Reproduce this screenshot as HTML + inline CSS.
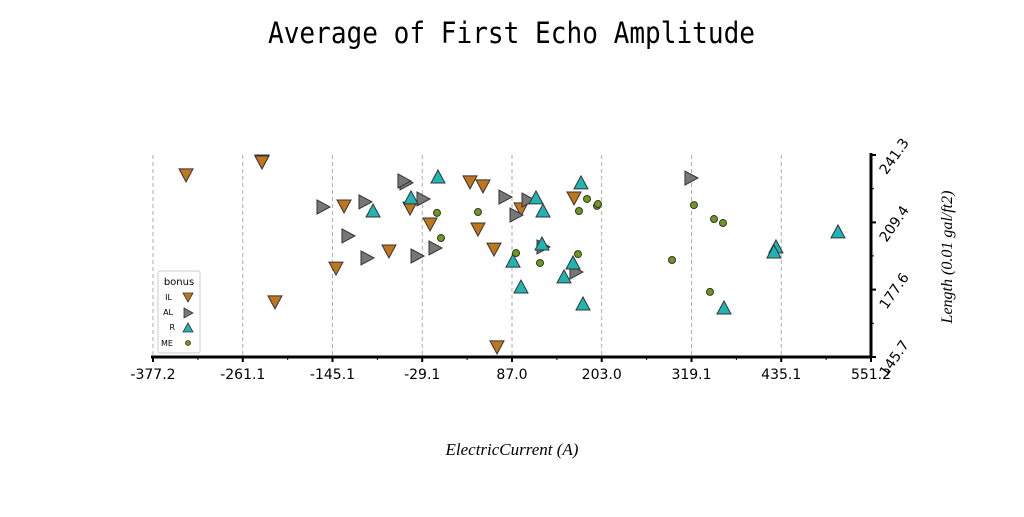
<!DOCTYPE html>
<html><head><meta charset="utf-8"><style>
body{margin:0;background:#fff;}
svg text{font-family:"DejaVu Sans","Liberation Sans",sans-serif;}
</style></head><body>
<svg id="chart" width="1024" height="512" xmlns="http://www.w3.org/2000/svg">
<text x="268" y="43" textLength="487" lengthAdjust="spacingAndGlyphs" style="font-family:'DejaVu Sans Mono','Liberation Mono',monospace;font-size:29px">Average of First Echo Amplitude</text>
<text x="512" y="455" text-anchor="middle" style="font-family:'Liberation Serif',serif;font-style:italic;font-size:17px">ElectricCurrent (A)</text>
<text transform="translate(952,257) rotate(-90)" text-anchor="middle" style="font-family:'Liberation Serif',serif;font-style:italic;font-size:16px">Length (0.01 gal/ft2)</text>
<g id="grid"></g><g id="marks"></g><g id="axes"></g>
<g>
<rect x="158" y="271" width="42" height="82" fill="#fff" stroke="#ccc" rx="2"/>
<text x="179" y="285" text-anchor="middle" font-size="10">bonus</text>
<text x="172" y="300" text-anchor="end" font-size="8">IL</text>
<polygon points="183,293 193,293 188,302" fill="#c0761c" stroke="#333" stroke-width="0.8"/>
<text x="173" y="315" text-anchor="end" font-size="8">AL</text>
<polygon points="184,308 193,313 184,318" fill="#777" stroke="#333" stroke-width="0.8"/>
<text x="175" y="330" text-anchor="end" font-size="8">R</text>
<polygon points="188,323 193,332 183,332" fill="#20b4b4" stroke="#333" stroke-width="0.8"/>
<text x="173" y="346" text-anchor="end" font-size="8">ME</text>
<circle cx="188" cy="343" r="2.5" fill="#6e9a18" stroke="#333" stroke-width="0.8"/>
</g>
</svg>
<script>
const xTicks=[-377.2,-261.1,-145.1,-29.1,87.0,203.0,319.1,435.1,551.2];
const yTicks=[145.7,177.6,209.4,241.3];
const ilX=[-334.5,-236.3,-236.3,-130.2,-44.9,-19.0,-140.6,-72.1,-219.5,32.7,49.5,43.0,63.7,98.6,67.6,167.2];
const ilY=[231.4,238.0,237.5,216.7,215.7,208.2,187.3,195.4,171.3,228.1,226.2,205.8,196.3,215.3,150.0,220.5];
const alX=[-157.4,-103.1,-125.1,-100.5,-50.1,-52.7,-28.1,-35.8,-12.6,77.9,92.2,107.7,127.1,169.7,318.4];
const alY=[216.7,219.1,203.0,192.6,228.1,229.0,220.5,193.5,197.3,221.4,212.9,220.0,197.8,185.9,230.4];
const rX=[-92.7,-43.6,-8.7,118.0,127.1,125.8,88.3,98.6,154.2,165.9,176.2,178.8,361.1,428.3,425.7,508.5];
const rY=[214.8,221.0,230.9,221.0,214.8,199.2,191.1,178.8,183.6,190.2,228.1,170.8,168.9,197.8,195.4,204.9];
const meX=[-10.0,43.0,-4.8,92.2,123.2,172.3,173.6,184.0,196.9,198.2,293.9,322.3,348.2,359.8,343.0];
const meY=[213.9,214.3,202.0,194.9,190.2,194.4,214.8,220.5,217.2,218.1,191.6,217.6,211.0,209.1,176.5];
const X0=153,X1=871,Y0=357,Y1=155;
const xs=v=>X0+(v-xTicks[0])/(xTicks[8]-xTicks[0])*(X1-X0);
const ys=v=>Y0-(v-yTicks[0])/(yTicks[3]-yTicks[0])*(Y0-Y1);
const NS="http://www.w3.org/2000/svg";
function mk(t,a,p){const e=document.createElementNS(NS,t);for(const k in a)e.setAttribute(k,a[k]);p.appendChild(e);return e;}
const grid=document.getElementById('grid'),marks=document.getElementById('marks'),axes=document.getElementById('axes');
xTicks.forEach((v,i)=>{const x=xs(v);
 const g=mk('line',{x1:x,x2:x,y1:Y1,y2:Y0,stroke:'#999','stroke-dasharray':'4,3','stroke-width':0.8},grid);
 
 
 mk('line',{x1:x,x2:x,y1:Y0,y2:Y0+5,stroke:'#000','stroke-width':2},axes);
 if(i<8){const xm=xs(v+(xTicks[1]-xTicks[0])/2);mk('line',{x1:xm,x2:xm,y1:Y0,y2:Y0+3,stroke:'#000','stroke-width':1},axes);}
 const t=mk('text',{x:x,y:Y0+22,'text-anchor':'middle','font-size':14},axes);t.textContent=v.toFixed(1);
 
 
});
yTicks.forEach((v,i)=>{const y=ys(v);
 mk('line',{x1:X1,x2:X1+5,y1:y,y2:y,stroke:'#000','stroke-width':2},axes);
 if(i<3){const ym=ys(v+(yTicks[1]-yTicks[0])/2);mk('line',{x1:X1,x2:X1+3,y1:ym,y2:ym,stroke:'#000','stroke-width':1},axes);}
 const t=mk('text',{transform:`translate(${X1+27},${y+4}) rotate(-55)`,'text-anchor':'middle','font-size':14},axes);t.textContent=v.toFixed(1);
 
 
});
const xa=mk('line',{x1:X0-2,x2:X1+1,y1:Y0,y2:Y0,stroke:'#000','stroke-width':3},axes);


const ya=mk('line',{x1:X1,x2:X1,y1:Y1-2,y2:Y0+1,stroke:'#000','stroke-width':3},axes);


const st={stroke:'#333','stroke-width':1};
ilX.forEach((v,i)=>{const x=xs(v),y=ys(ilY[i]);
 const p=mk('polygon',Object.assign({points:`${x-7},${y-7} ${x+7},${y-7} ${x},${y+6}`,fill:'#c0761c'},st),marks);
 
 });
alX.forEach((v,i)=>{const x=xs(v),y=ys(alY[i]);
 const p=mk('polygon',Object.assign({points:`${x-6},${y-7} ${x+7},${y} ${x-6},${y+7}`,fill:'#777'},st),marks);
 
 });
rX.forEach((v,i)=>{const x=xs(v),y=ys(rY[i]);
 const p=mk('polygon',Object.assign({points:`${x},${y-7} ${x+7},${y+6} ${x-7},${y+6}`,fill:'#20b4b4'},st),marks);
 
 });
meX.forEach((v,i)=>{const x=xs(v),y=ys(meY[i]);
 const p=mk('circle',Object.assign({cx:x,cy:y,r:3.5,fill:'#6e9a18'},st),marks);
 
 });
</script>
</body></html>
